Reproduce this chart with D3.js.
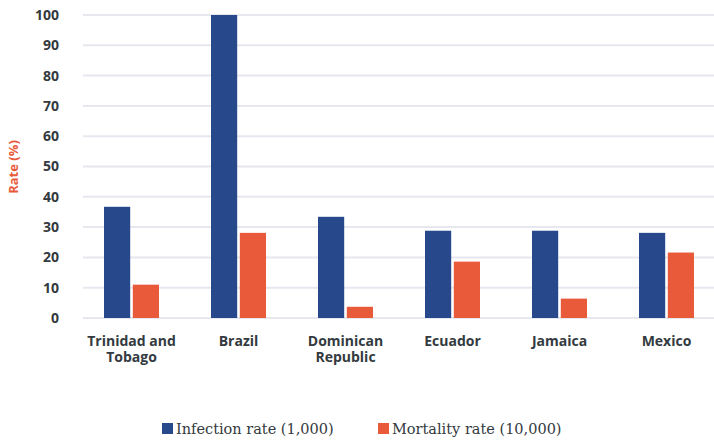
<!DOCTYPE html>
<html>
<head>
<meta charset="utf-8">
<script src="https://cdn.jsdelivr.net/npm/d3@7"></script>
<style>
  html, body { margin: 0; padding: 0; background: #fff; }
  svg { display: block; }
</style>
</head>
<body>
<svg id="chart" width="714" height="440"></svg>
<script>
// Rates by country
const countries = ["Trinidad and Tobago", "Brazil", "Dominican Republic", "Ecuador", "Jamaica", "Mexico"];
const countryLines = [["Trinidad and", "Tobago"], ["Brazil"], ["Dominican", "Republic"], ["Ecuador"], ["Jamaica"], ["Mexico"]];
const infectionRate = [36.7, 100, 33.4, 28.8, 28.8, 28.1];
const mortalityRate = [11.0, 28.1, 3.7, 18.6, 6.4, 21.6];
const seriesNames = ["Infection rate (1,000)", "Mortality rate (10,000)"];
const seriesColors = ["#27498c", "#e95a3b"];
const yTicks = [0, 10, 20, 30, 40, 50, 60, 70, 80, 90, 100];

const svg = d3.select("#chart");
const plot = { left: 83, right: 714, top: 15, bottom: 318 };

const x = d3.scaleBand().domain(countries).range([78, 720]).paddingInner(0).paddingOuter(0);
const xInner = d3.scaleBand().domain([0, 1]).range([26, 81]).paddingInner(5 / 55);
const y = d3.scaleLinear().domain([0, 100]).range([plot.bottom, plot.top]);

// Horizontal gridlines
svg.append("g")
  .selectAll("line")
  .data(yTicks)
  .join("line")
  .attr("x1", plot.left)
  .attr("x2", plot.right)
  .attr("y1", d => y(d))
  .attr("y2", d => y(d))
  .attr("stroke", "#e7e7f0")
  .attr("stroke-width", 2);

// Y axis labels
const yAxis = d3.axisLeft(y).tickValues(yTicks).tickSize(0).tickPadding(0);
const gy = svg.append("g").attr("transform", "translate(59,0)").call(yAxis);
gy.select(".domain").remove();
gy.selectAll("text")
  .attr("font-family", "'Open Sans', sans-serif")
  .attr("font-weight", 700)
  .attr("font-size", 14)
  .attr("fill", "#333a40");

// Y axis title
svg.append("text")
  .attr("transform", "translate(18,167) rotate(-90)")
  .attr("text-anchor", "middle")
  .attr("font-family", "'Open Sans', sans-serif")
  .attr("font-weight", 700)
  .attr("font-size", 13)
  .attr("fill", "#e95a3b")
  .text("Rate (%)");

// Bars
const groups = svg.append("g")
  .selectAll("g")
  .data(countries)
  .join("g")
  .attr("transform", d => `translate(${x(d)},0)`);

groups.selectAll("rect")
  .data((d, i) => [infectionRate[i], mortalityRate[i]])
  .join("rect")
  .attr("x", (d, j) => xInner(j))
  .attr("width", xInner.bandwidth())
  .attr("y", d => y(d))
  .attr("height", d => y(0) - y(d))
  .attr("fill", (d, j) => seriesColors[j]);

// X axis labels, one text element per line
const labelLines = countries.flatMap((c, i) =>
  countryLines[i].map((t, k) => ({ country: c, text: t, line: k })));

svg.append("g")
  .selectAll("text")
  .data(labelLines)
  .join("text")
  .attr("x", d => x(d.country) + x.bandwidth() / 2)
  .attr("y", d => 346 + d.line * 16)
  .attr("text-anchor", "middle")
  .attr("font-family", "'Open Sans', sans-serif")
  .attr("font-weight", 700)
  .attr("font-size", 14)
  .attr("fill", "#333a40")
  .text(d => d.text);

// Legend
const legendX = [162, 378];
const legend = svg.append("g")
  .selectAll("g")
  .data(seriesNames)
  .join("g")
  .attr("transform", (d, i) => `translate(${legendX[i]},423)`);

legend.append("rect")
  .attr("width", 11)
  .attr("height", 11)
  .attr("fill", (d, i) => seriesColors[i]);

legend.append("text")
  .attr("x", 14)
  .attr("y", 11)
  .attr("font-family", "'DejaVu Serif', serif")
  .attr("font-size", 14.5)
  .attr("fill", "#333a40")
  .text(d => d);
</script>
</body>
</html>
